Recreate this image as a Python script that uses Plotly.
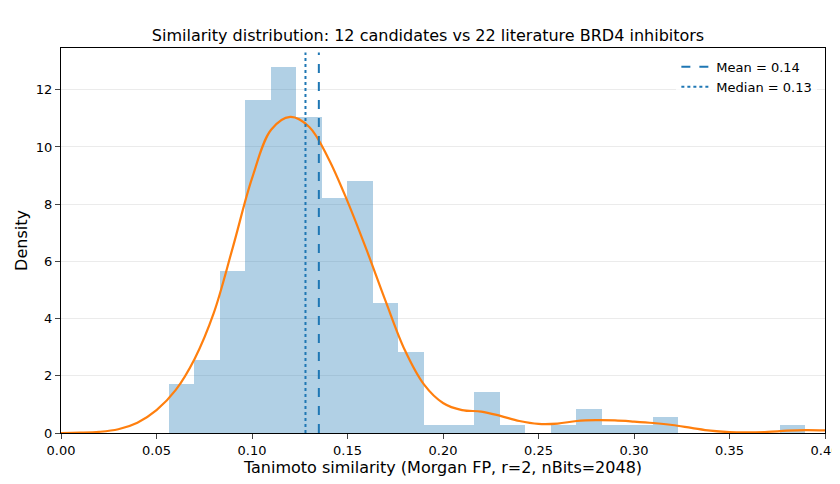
import plotly.graph_objects as go

bin_start = 0.0565
bin_width = 0.01333
densities = [1.70, 2.55, 5.67, 11.65, 12.78, 11.05, 8.22, 8.80, 4.55, 2.83,
             0.28, 0.28, 1.42, 0.28, 0.0, 0.28, 0.85, 0.28, 0.28, 0.57,
             0.0, 0.0, 0.0, 0.0, 0.28]
kde_x = [0.0, 0.01, 0.02, 0.03, 0.04, 0.05, 0.06, 0.07, 0.08, 0.09, 0.10, 0.11,
         0.12, 0.13, 0.14, 0.15, 0.16, 0.17, 0.18, 0.19, 0.20, 0.21, 0.22, 0.23,
         0.24, 0.25, 0.26, 0.27, 0.28, 0.29, 0.30, 0.31, 0.32, 0.33, 0.34, 0.35,
         0.36, 0.37, 0.38, 0.39, 0.40]
kde_y = [0.0, 0.01, 0.04, 0.13, 0.36, 0.8, 1.5, 2.6, 4.2, 6.5, 8.9, 10.6,
         11.05, 10.7, 9.6, 8.1, 6.4, 4.6, 2.9, 1.7, 1.05, 0.8, 0.75, 0.6,
         0.42, 0.32, 0.33, 0.42, 0.45, 0.44, 0.4, 0.35, 0.28, 0.18, 0.08, 0.03,
         0.02, 0.04, 0.08, 0.1, 0.09]
mean_val = 0.135
median_val = 0.128

centers = [bin_start + bin_width * (i + 0.5) for i in range(len(densities))]

fig = go.Figure()
fig.add_trace(go.Bar(x=centers, y=densities, width=bin_width, marker_color='rgba(31,119,180,0.35)',
                     marker_line_width=0, showlegend=False))
fig.add_trace(go.Scatter(x=kde_x, y=kde_y, mode='lines', line=dict(color='#ff7f0e', width=2.2, shape='spline'),
                         showlegend=False))
fig.add_trace(go.Scatter(x=[mean_val, mean_val], y=[0, 13.3], mode='lines', name='Mean = 0.14',
                         line=dict(color='#1f77b4', width=2, dash='dash')))
fig.add_trace(go.Scatter(x=[median_val, median_val], y=[0, 13.3], mode='lines', name='Median = 0.13',
                         line=dict(color='#1f77b4', width=2, dash='dot')))

fig.update_layout(
    width=840, height=484, margin=dict(l=53, r=23, t=40, b=59, autoexpand=False),
    plot_bgcolor='white', paper_bgcolor='white', bargap=0,
    font=dict(family='DejaVu Sans', size=13, color='black'),
    title=dict(text='Similarity distribution: 12 candidates vs 22 literature BRD4 inhibitors',
               x=0.5, xanchor='center', y=0.955, font=dict(size=16)),
    legend=dict(x=0.99, y=0.99, xanchor='right', yanchor='top', bgcolor='rgba(255,255,255,0.8)',
                font=dict(size=13)),
    xaxis=dict(range=[0, 0.4], dtick=0.05, tickformat='.2f', showline=True, linecolor='black', mirror=True,
               ticks='outside', showgrid=False, zeroline=False, automargin=False,
               title=dict(text='Tanimoto similarity (Morgan FP, r=2, nBits=2048)', standoff=4)),
    yaxis=dict(range=[0, 13.46], dtick=2, showline=True, linecolor='black', mirror=True, ticks='outside',
               showgrid=True, gridcolor='#ebebeb', zeroline=False, automargin=False,
               title=dict(text='Density', standoff=4)),
)
fig.write_html("out.html")
